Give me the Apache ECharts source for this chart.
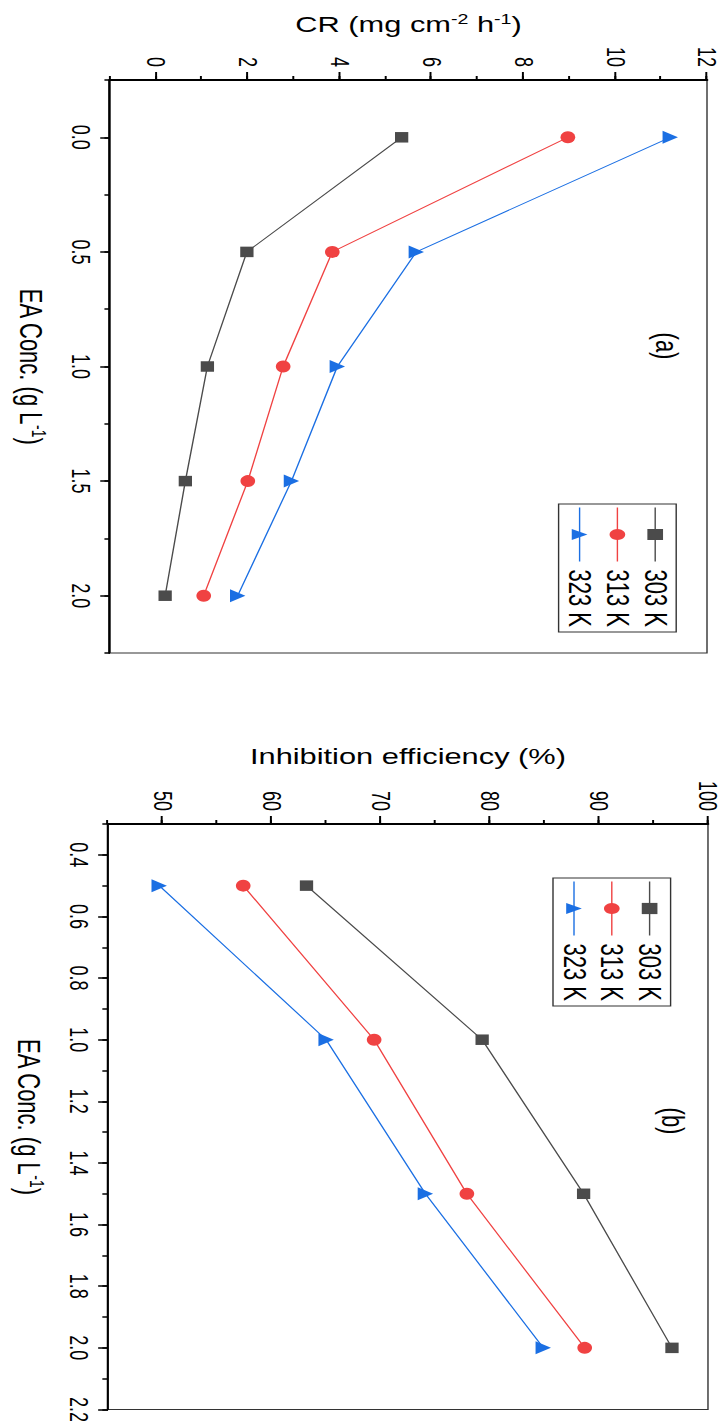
<!DOCTYPE html>
<html lang="en">
<head>
<meta charset="UTF-8">
<title>CR and inhibition efficiency vs EA concentration</title>
<script src="https://cdn.jsdelivr.net/npm/echarts@6/dist/echarts.min.js"></script>
<style>
  html, body { margin: 0; padding: 0; width: 721px; height: 1425px; overflow: hidden; background: #fff; }
  /* figure is drawn landscape, then turned a quarter clockwise and stretched like the source */
  #container {
    position: absolute; left: 0; top: 0;
    width: 1425px; height: 515px;
    transform-origin: 0 0;
    transform: translate(721px, 0) rotate(90deg) scale(1, 1.4);
  }
</style>
</head>
<body>
<div id="container"></div>
<script type="text/javascript">
    // data
    var seriesNames = ['303 K', '313 K', '323 K'];

    // (a) corrosion rate
    var eaA = [0.0, 0.5, 1.0, 1.5, 2.0];
    var cr303 = [5.35, 1.98, 1.12, 0.64, 0.20];
    var cr313 = [8.97, 3.84, 2.77, 2.00, 1.04];
    var cr323 = [11.2, 5.67, 3.95, 2.95, 1.78];

    // (b) inhibition efficiency
    var eaB = [0.5, 1.0, 1.5, 2.0];
    var ie303 = [63.2, 79.3, 88.6, 96.7];
    var ie313 = [57.4, 69.4, 77.9, 88.7];
    var ie323 = [49.7, 65.0, 74.1, 84.9];

    // tick labels
    var crTicks = [0, 2, 4, 6, 8, 10, 12];
    var eaTicksA = [0.0, 0.5, 1.0, 1.5, 2.0];
    var ieTicks = [50, 60, 70, 80, 90, 100];
    var eaTicksB = [0.4, 0.6, 0.8, 1.0, 1.2, 1.4, 1.6, 1.8, 2.0, 2.2];

    var colors = ['#4b4b4b', '#f04242', '#1b6fe3'];
    var symbols = ['rect', 'circle', 'triangle'];
    var symbolSizes = [[10.5, 9.5], [12, 10.5], [13, 11]];
    var font = 'Liberation Sans, Arial, Helvetica, sans-serif';

    var dom = document.getElementById('container');
    var myChart = echarts.init(dom, null, {renderer: 'svg'});

    var pairs = function (xs, ys) {
        var res = [];
        for (var i = 0; i < xs.length; i++) {
            res.push([xs[i], ys[i]]);
        }
        return res;
    };

    var makeSeries = function (idx, gridIdx, xs, ys) {
        return {
            name: seriesNames[idx],
            type: 'line',
            xAxisIndex: gridIdx * 2,
            yAxisIndex: gridIdx * 2,
            data: pairs(xs, ys),
            symbol: symbols[idx],
            symbolSize: symbolSizes[idx],
            showAllSymbol: true,
            animation: false,
            lineStyle: {color: colors[idx], width: 1},
            itemStyle: {color: colors[idx], opacity: 1}
        };
    };

    var supRich = {
        sup: {fontSize: 14, fontFamily: font, color: '#000', verticalAlign: 'top', lineHeight: 14}
    };

    // main value axis + an overlay that only carries the long (major) ticks
    var mainX = function (gi, min, max, step, labels, name) {
        return {
            type: 'value', gridIndex: gi, position: 'bottom',
            min: min, max: max, interval: step,
            name: name, nameLocation: 'middle', nameGap: 44,
            nameTextStyle: {fontSize: 22, fontFamily: font, color: '#000', lineHeight: 26, rich: supRich},
            axisLine: {show: true, onZero: false, lineStyle: {color: '#000', width: 1.5}},
            axisTick: {show: true, length: 4, lineStyle: {color: '#000', width: 1.5}},
            axisLabel: {
                show: true, margin: 12, fontSize: 18, fontFamily: font, color: '#000',
                customValues: labels,
                formatter: function (v) { return v.toFixed(1); }
            },
            splitLine: {show: false}
        };
    };
    var majorX = function (gi, min, max, labels) {
        return {
            type: 'value', gridIndex: gi, position: 'bottom', offset: 0,
            min: min, max: max,
            axisLine: {show: false, onZero: false},
            axisTick: {show: true, length: 7, customValues: labels, lineStyle: {color: '#000', width: 1.5}},
            axisLabel: {show: false},
            splitLine: {show: false}
        };
    };
    var mainY = function (gi, min, max, step, labels, name, gap) {
        return {
            type: 'value', gridIndex: gi, position: 'left',
            min: min, max: max, interval: step,
            name: name, nameLocation: 'middle', nameGap: gap, nameRotate: 90,
            nameTextStyle: {fontSize: 22, fontFamily: font, color: '#000', lineHeight: 26, rich: supRich},
            axisLine: {show: true, onZero: false, lineStyle: {color: '#000', width: 2}},
            axisTick: {show: true, length: 4, lineStyle: {color: '#000', width: 1.4}},
            axisLabel: {
                show: true, margin: 13, fontSize: 18, fontFamily: font, color: '#000',
                customValues: labels
            },
            splitLine: {show: false}
        };
    };
    var majorY = function (gi, min, max, labels) {
        return {
            type: 'value', gridIndex: gi, position: 'left', offset: 0,
            min: min, max: max,
            axisLine: {show: false, onZero: false},
            axisTick: {show: true, length: 8, customValues: labels, lineStyle: {color: '#000', width: 1.4}},
            axisLabel: {show: false},
            splitLine: {show: false}
        };
    };

    var legendBase = {
        orient: 'vertical',
        itemWidth: 54, itemHeight: 14, itemGap: 5,
        padding: [4, 5, 4, 3],
        borderColor: '#333', borderWidth: 1,
        lineStyle: {width: 1},
        textStyle: {fontSize: 22, fontFamily: font, color: '#000', lineHeight: 22, padding: [0, 0, 0, 3]},
        data: seriesNames
    };

    var option = {
        backgroundColor: '#fff',
        animation: false,
        grid: [
            {left: 80, top: 10, width: 573, height: 426.4, show: true, borderColor: '#333', borderWidth: 1, containLabel: false},
            {left: 824, top: 9.3, width: 586, height: 428.6, show: true, borderColor: '#333', borderWidth: 1, containLabel: false}
        ],
        xAxis: [
            mainX(0, -0.25, 2.25, 0.25, eaTicksA, 'EA Conc. (g L{sup|-1})'),
            majorX(0, -0.25, 2.25, eaTicksA),
            mainX(1, 0.3, 2.2, 0.1, eaTicksB, 'EA Conc. (g L{sup|-1})'),
            majorX(1, 0.3, 2.2, eaTicksB)
        ],
        yAxis: [
            mainY(0, -1, 12, 1, crTicks, 'CR (mg cm{sup|-2} h{sup|-1})', 42),
            majorY(0, -1, 12, crTicks),
            mainY(1, 45, 100, 5, ieTicks, 'Inhibition efficiency (%)', 54),
            majorY(1, 45, 100, ieTicks)
        ],
        legend: [
            Object.assign({}, legendBase, {left: 504, top: 32}),
            Object.assign({}, legendBase, {left: 878, top: 36})
        ],
        graphic: [
            {type: 'text', x: 346, y: 39, style: {text: '(a)', x: 0, y: 0, fontSize: 22, fontFamily: font, fill: '#000', textAlign: 'center', textVerticalAlign: 'middle'}},
            {type: 'text', x: 1121, y: 35, style: {text: '(b)', x: 0, y: 0, fontSize: 22, fontFamily: font, fill: '#000', textAlign: 'center', textVerticalAlign: 'middle'}}
        ],
        series: [
            makeSeries(0, 0, eaA, cr303),
            makeSeries(1, 0, eaA, cr313),
            makeSeries(2, 0, eaA, cr323),
            makeSeries(0, 1, eaB, ie303),
            makeSeries(1, 1, eaB, ie313),
            makeSeries(2, 1, eaB, ie323)
        ]
    };

    if (option && typeof option === 'object') {
        myChart.setOption(option, true);
    }
</script>
</body>
</html>
